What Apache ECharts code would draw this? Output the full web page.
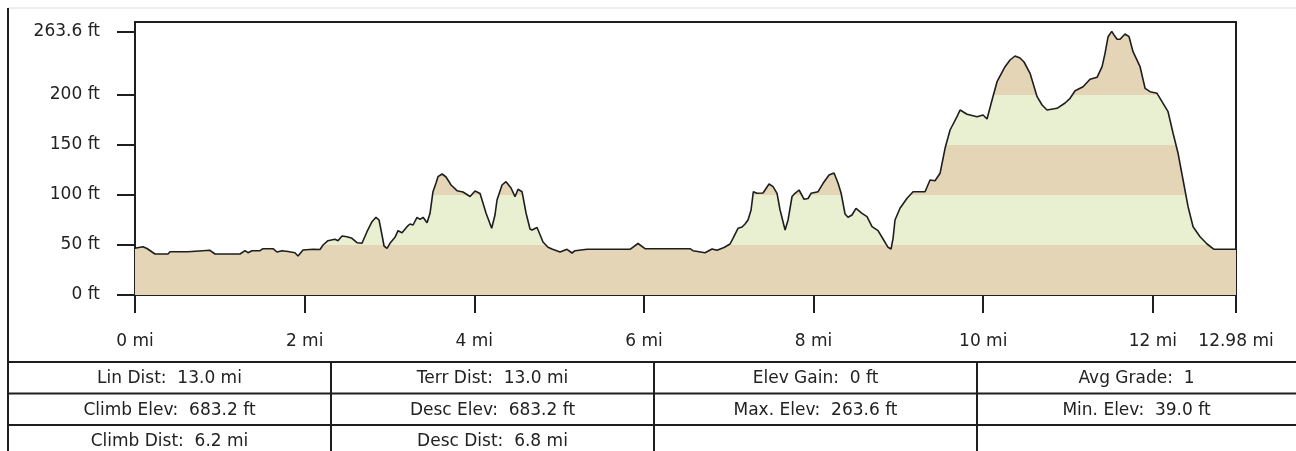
<!DOCTYPE html>
<html>
<head>
<meta charset="utf-8">
<script src="https://cdn.jsdelivr.net/npm/echarts@6/dist/echarts.min.js"></script>
<style>
html,body{margin:0;padding:0;background:#fff;}
#chart{width:1296px;height:451px;}
</style>
</head>
<body>
<div id="chart"></div>
<script>
// Distance along the route (miles)
const distMi = [
  0, 0.094, 0.141, 0.236, 0.389, 0.413, 0.625, 0.648, 0.884, 0.943,
  1.238, 1.297, 1.332, 1.379, 1.474, 1.509, 1.627, 1.674, 1.733, 1.804,
  1.886, 1.922, 1.981, 2.099, 2.181, 2.217, 2.275, 2.358, 2.393, 2.441,
  2.499, 2.558, 2.617, 2.676, 2.735, 2.794, 2.841, 2.877, 2.912, 2.936,
  2.971, 3.006, 3.065, 3.101, 3.148, 3.207, 3.242, 3.278, 3.325, 3.360,
  3.396, 3.443, 3.478, 3.513, 3.549, 3.572, 3.620, 3.667, 3.702, 3.726,
  3.796, 3.867, 3.950, 4.009, 4.068, 4.138, 4.205, 4.244, 4.268, 4.327,
  4.374, 4.433, 4.480, 4.516, 4.563, 4.610, 4.657, 4.681, 4.740, 4.810,
  4.869, 4.916, 5.011, 5.093, 5.152, 5.188, 5.329, 5.836, 5.930, 6.013,
  6.543, 6.579, 6.720, 6.803, 6.862, 6.944, 7.015, 7.050, 7.109, 7.157,
  7.192, 7.227, 7.263, 7.290, 7.333, 7.404, 7.475, 7.522, 7.569, 7.605,
  7.664, 7.699, 7.746, 7.781, 7.829, 7.888, 7.935, 7.970, 8.053, 8.112,
  8.182, 8.241, 8.288, 8.324, 8.371, 8.406, 8.453, 8.500, 8.571, 8.630,
  8.689, 8.760, 8.819, 8.878, 8.913, 8.937, 8.960, 9.019, 9.102, 9.173,
  9.314, 9.373, 9.432, 9.491, 9.550, 9.609, 9.691, 9.727, 9.809, 9.927,
  9.998, 10.045, 10.104, 10.163, 10.257, 10.316, 10.375, 10.434, 10.481, 10.552,
  10.635, 10.694, 10.752, 10.870, 10.965, 11.024, 11.083, 11.177, 11.259, 11.342,
  11.401, 11.436, 11.472, 11.515, 11.542, 11.578, 11.613, 11.672, 11.719, 11.766,
  11.849, 11.908, 11.967, 12.049, 12.120, 12.179, 12.238, 12.297, 12.356, 12.415,
  12.474, 12.556, 12.639, 12.721, 12.98
];
// Elevation (feet)
const elevFt = [
  46.7, 48.3, 46.5, 41.0, 41.0, 43.3, 43.3, 44.7, 44.7, 41.0,
  41.0, 44.3, 42.3, 44.3, 44.3, 46.3, 46.3, 43.0, 44.3, 43.5,
  42.3, 39.0, 45.0, 45.7, 45.5, 50.0, 54.3, 55.7, 54.3, 59.0,
  58.3, 56.7, 52.3, 51.7, 63.3, 73.3, 77.7, 75.0, 60.0, 49.0,
  46.7, 51.7, 57.7, 64.3, 62.3, 68.3, 71.0, 70.0, 77.7, 75.7,
  77.7, 72.3, 81.7, 103.3, 112.0, 118.3, 121.0, 118.0, 113.3, 110.0,
  104.3, 103.0, 98.5, 104.0, 101.5, 82.0, 66.7, 80.0, 95.0, 110.0,
  113.3, 107.0, 98.3, 105.7, 103.3, 82.0, 66.0, 65.0, 67.5, 53.0,
  47.7, 46.0, 43.0, 45.7, 42.0, 44.3, 45.7, 45.7, 51.5, 46.3,
  46.3, 44.3, 42.3, 46.0, 44.7, 47.5, 51.0, 56.7, 66.7, 68.0,
  71.0, 75.0, 85.0, 103.3, 101.7, 102.0, 111.0, 108.3, 101.7, 85.0,
  65.0, 75.0, 98.5, 101.7, 105.0, 95.7, 96.5, 101.7, 103.3, 111.7,
  120.0, 122.0, 112.0, 102.0, 81.0, 77.7, 80.0, 86.7, 81.7, 78.3,
  68.3, 64.3, 56.0, 47.7, 46.0, 56.7, 75.0, 86.7, 96.7, 103.3,
  103.3, 115.0, 114.3, 121.7, 146.7, 165.0, 178.3, 185.0, 180.7, 178.3,
  180.0, 176.0, 195.0, 213.3, 228.3, 235.0, 239.0, 237.0, 233.0, 221.7,
  198.3, 190.0, 185.0, 186.7, 192.0, 196.7, 204.3, 208.3, 215.7, 217.7,
  228.3, 241.7, 258.3, 263.6, 260.0, 255.7, 255.7, 261.0, 258.3, 243.3,
  228.3, 206.7, 203.3, 201.7, 191.7, 183.3, 161.7, 141.7, 115.0, 88.3,
  68.3, 58.3, 51.0, 45.7, 45.7
];
const xTickValues = [0, 2, 4, 6, 8, 10, 12, 12.98];
const yTickValues = [0, 50, 100, 150, 200, 263.6];
const bandEdgesFt = [50, 100, 150, 200];
const statRows = [
  ['Lin Dist:  13.0 mi', 'Terr Dist:  13.0 mi', 'Elev Gain:  0 ft', 'Avg Grade:  1'],
  ['Climb Elev:  683.2 ft', 'Desc Elev:  683.2 ft', 'Max. Elev:  263.6 ft', 'Min. Elev:  39.0 ft'],
  ['Climb Dist:  6.2 mi', 'Desc Dist:  6.8 mi', '', '']
];

const TAN = '#e5d5b7';
const GREEN = '#e9f0d1';
const INK = '#1e1e1e';
const FONT = '17px "DejaVu Sans"';

const points = distMi.map((d, i) => [d, elevFt[i]]);

// band pieces built from edges, alternating tan / green
const pieces = [];
let prev = null;
bandEdgesFt.forEach((e, i) => {
  const p = { lt: e, color: i % 2 === 0 ? TAN : GREEN };
  if (prev !== null) p.gte = prev;
  pieces.push(p);
  prev = e;
});
pieces.push({ gte: prev, color: bandEdgesFt.length % 2 === 0 ? TAN : GREEN });

// table graphics
const tableTop = 362, rowH = 31.5, colX = [8, 331, 654, 977, 1296];
const graphics = [];
graphics.push({ type: 'line', shape: { x1: 8, y1: 8, x2: 1296, y2: 8 }, style: { stroke: '#ececec', lineWidth: 2 }, silent: true });
graphics.push({ type: 'line', shape: { x1: 8, y1: 8, x2: 8, y2: 451 }, style: { stroke: INK, lineWidth: 2 }, silent: true });
for (let r = 0; r <= statRows.length; r++) {
  const y = tableTop + r * rowH;
  graphics.push({ type: 'line', shape: { x1: 8, y1: y, x2: 1296, y2: y }, style: { stroke: INK, lineWidth: 2 }, silent: true });
}
for (let c = 1; c < colX.length - 1; c++) {
  graphics.push({ type: 'line', shape: { x1: colX[c], y1: tableTop, x2: colX[c], y2: 451 }, style: { stroke: INK, lineWidth: 2 }, silent: true });
}
statRows.forEach((row, r) => {
  row.forEach((txt, c) => {
    if (!txt) return;
    graphics.push({
      type: 'text',
      x: (colX[c] + colX[c + 1]) / 2,
      y: tableTop + r * rowH + rowH / 2 + 1,
      style: { text: txt, font: FONT, fill: '#222', align: 'center', verticalAlign: 'middle' },
      silent: true
    });
  });
});

const chart = echarts.init(document.getElementById('chart'), null, { renderer: 'canvas' });
chart.setOption({
  animation: false,
  backgroundColor: '#fff',
  grid: { left: 135, right: 60, top: 22, bottom: 156, show: true, borderColor: INK, borderWidth: 2, backgroundColor: '#fff' },
  xAxis: {
    type: 'value', min: 0, max: 12.98,
    axisLine: { show: true, onZero: false, lineStyle: { color: INK, width: 2 } },
    axisTick: { show: true, length: 18, lineStyle: { color: INK, width: 2 }, customValues: xTickValues },
    axisLabel: { customValues: xTickValues, formatter: v => v + ' mi', fontFamily: 'DejaVu Sans', fontSize: 17, color: '#222', margin: 38 },
    splitLine: { show: false }
  },
  yAxis: {
    type: 'value', min: 0, max: 273,
    axisLine: { show: true, lineStyle: { color: INK, width: 2 } },
    axisTick: { show: true, length: 18, lineStyle: { color: INK, width: 2 }, customValues: yTickValues },
    axisLabel: { customValues: yTickValues, formatter: v => v + ' ft', fontFamily: 'DejaVu Sans', fontSize: 17, color: '#222', margin: 35 },
    splitLine: { show: false }
  },
  visualMap: {
    show: false, type: 'piecewise', dimension: 1, seriesIndex: 0, pieces: pieces
  },
  series: [
    {
      type: 'line', data: points, showSymbol: false, symbol: 'none',
      lineStyle: { width: 0, opacity: 0 },
      areaStyle: { opacity: 1 },
      z: 1
    },
    {
      type: 'line', data: points, showSymbol: false, symbol: 'none',
      lineStyle: { color: INK, width: 1.6 },
      z: 3
    }
  ],
  graphic: graphics
});
</script>
</body>
</html>
